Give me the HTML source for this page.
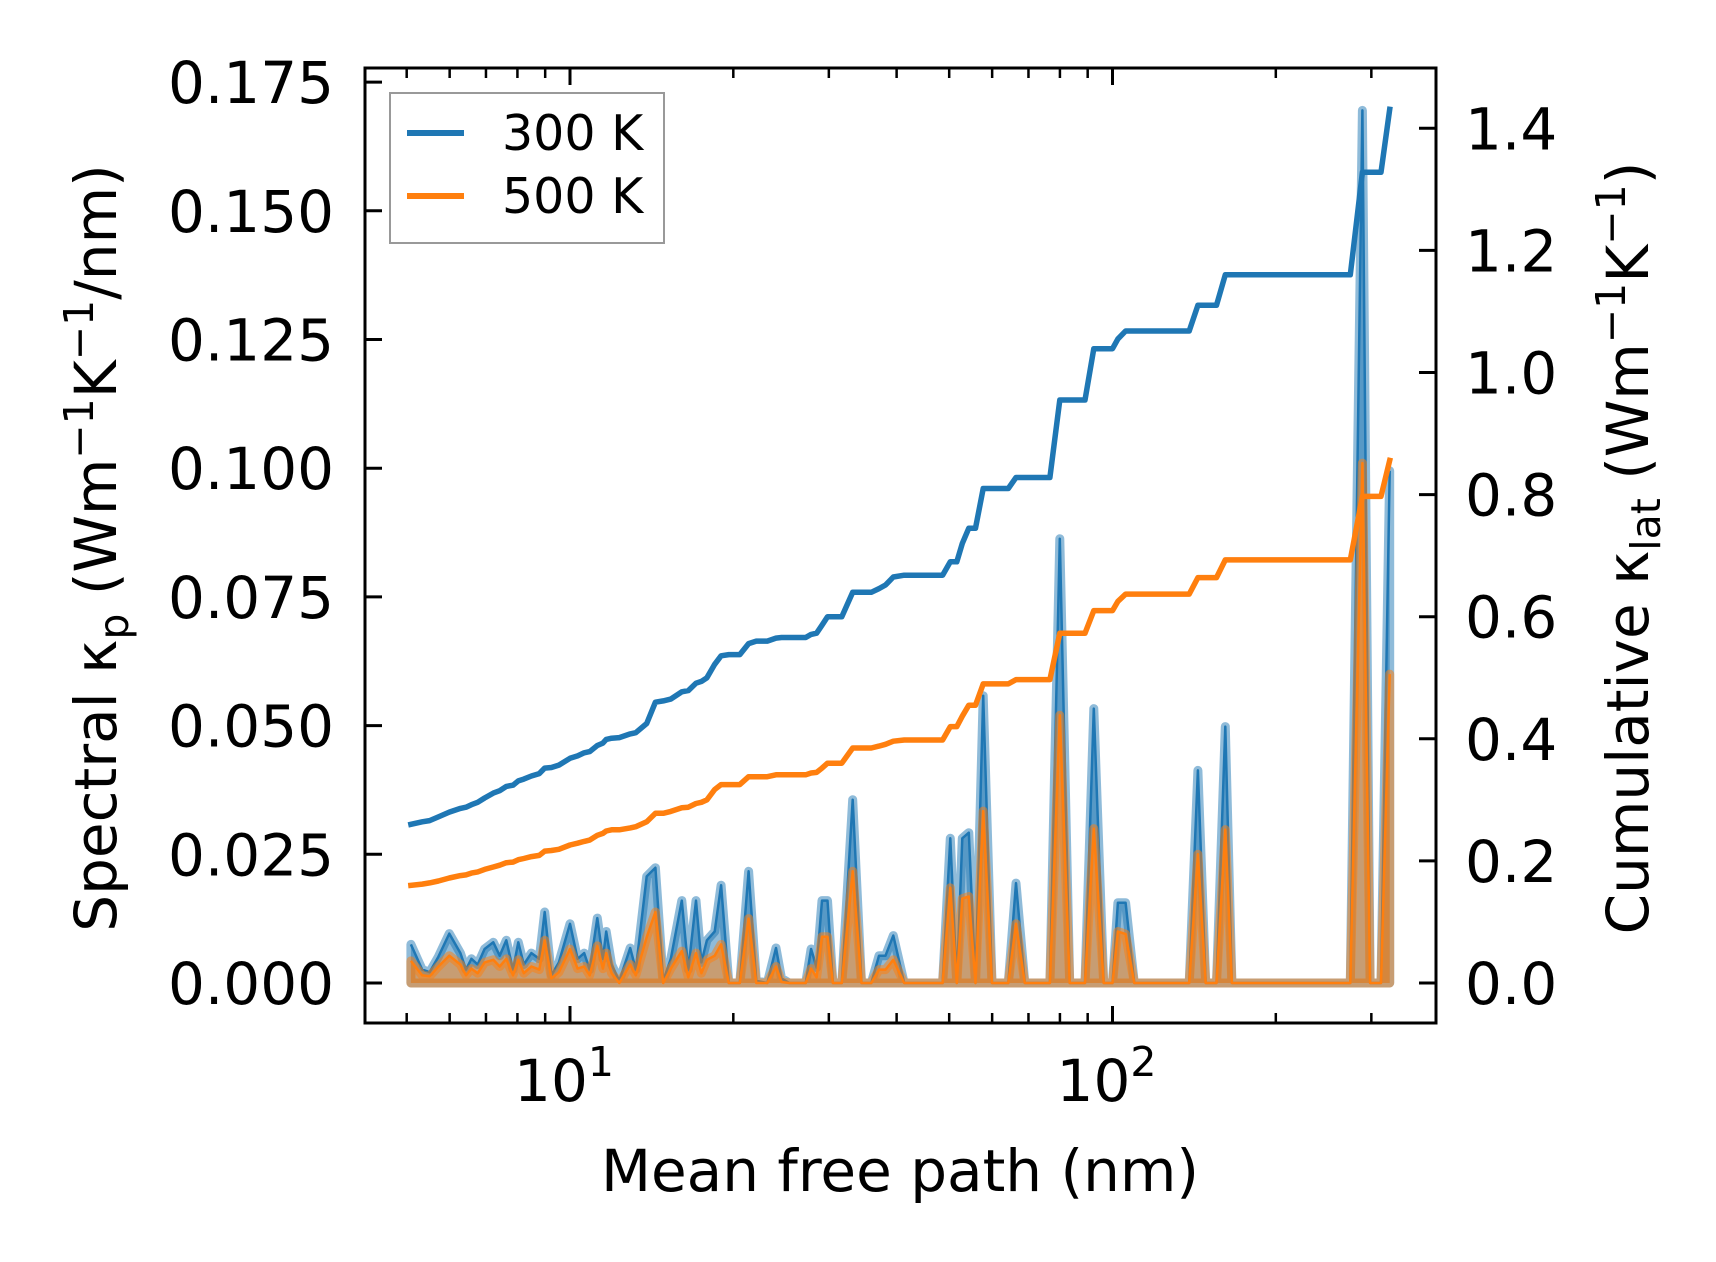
<!DOCTYPE html>
<html><head><meta charset="utf-8"><style>
html,body{margin:0;padding:0;background:#fff;}
svg{display:block;font-family:"DejaVu Sans","Liberation Sans",sans-serif;}
</style></head><body>
<svg id="chart" width="1716" height="1262" viewBox="0 0 1716 1262" xmlns="http://www.w3.org/2000/svg">
<g id="series"></g>
<g id="axes"></g>
</svg>
<script>
// ---- data ----
const mfpSpec = [5.09,5.34,5.51,5.72,5.99,6.28,6.43,6.58,6.76,6.96,7.22,7.42,7.63,7.85,8.03,8.22,8.49,8.78,8.98,9.24,9.54,10.0,10.33,10.62,10.87,11.23,11.5,11.66,11.93,12.33,12.91,13.22,13.85,14.37,14.85,15.34,16.07,16.52,17.07,17.47,17.88,18.48,18.99,19.62,20.56,21.34,22.05,23.1,23.97,24.54,25.35,27.19,27.82,28.48,29.14,29.83,30.52,31.69,33.2,34.46,35.93,37.12,38.16,39.44,41.3,48.63,50.23,51.64,52.86,54.35,55.91,57.76,59.96,64.27,66.4,68.92,76.68,79.97,83.4,89.0,92.37,96.32,100.0,102.3,105.7,109.7,138.5,143.7,148.5,155.5,161.4,166.0,274.4,288.8,298.4,312.6,324.3];
const spec300 = [0.0075,0.0026,0.0021,0.0051,0.0096,0.0058,0.0026,0.0047,0.0036,0.0066,0.0079,0.0053,0.0083,0.0026,0.0079,0.0036,0.0058,0.0047,0.0138,0.0015,0.0040,0.0115,0.0047,0.0058,0.0026,0.0126,0.0047,0.0100,0.0036,0.0004,0.0068,0.0026,0.0207,0.0224,0.0004,0.0047,0.0160,0.0026,0.0160,0.0040,0.0083,0.0100,0.0190,0,0,0.0217,0.0004,0,0.0068,0.0009,0,0,0.0066,0.0030,0.0160,0.0160,0,0,0.0356,0,0,0.0053,0.0053,0.0092,0,0,0.0281,0,0.0281,0.0292,0,0.0558,0,0,0.0194,0,0,0.0863,0,0,0.0533,0,0,0.0156,0.0156,0,0,0.0413,0,0,0.0498,0,0,0.1695,0,0,0.0995];
const spec500 = [0.0043,0.0015,0.0013,0.0032,0.0053,0.0036,0.0015,0.0028,0.0019,0.0040,0.0045,0.0032,0.0047,0.0015,0.0045,0.0019,0.0032,0.0026,0.0083,0.0009,0.0021,0.0066,0.0028,0.0032,0.0015,0.0072,0.0028,0.0058,0.0019,0,0.0036,0.0015,0.0089,0.0138,0,0.0028,0.0062,0.0011,0.0058,0.0019,0.0045,0.0053,0.0075,0,0,0.0125,0,0,0.0032,0.0002,0,0,0.0028,0.0011,0.0090,0.0090,0,0,0.0217,0,0,0.0026,0.0026,0.0045,0,0,0.0185,0,0.0164,0.0168,0,0.0334,0,0,0.0115,0,0,0.0520,0,0,0.0300,0,0,0.0100,0.0095,0,0,0.0250,0,0,0.0298,0,0,0.101,0,0,0.0600];
const cum300 = [0.260,0.264,0.266,0.272,0.280,0.286,0.288,0.292,0.296,0.303,0.311,0.315,0.322,0.324,0.331,0.334,0.339,0.343,0.352,0.353,0.357,0.368,0.372,0.377,0.379,0.389,0.393,0.399,0.401,0.402,0.408,0.410,0.425,0.460,0.462,0.465,0.477,0.479,0.491,0.494,0.500,0.522,0.536,0.538,0.538,0.556,0.560,0.560,0.565,0.566,0.566,0.566,0.571,0.573,0.586,0.600,0.600,0.600,0.640,0.640,0.640,0.646,0.652,0.665,0.668,0.668,0.690,0.690,0.720,0.745,0.745,0.810,0.810,0.810,0.828,0.828,0.828,0.955,0.955,0.955,1.039,1.039,1.039,1.055,1.068,1.068,1.068,1.110,1.110,1.110,1.160,1.160,1.160,1.328,1.328,1.328,1.431];
const cum500 = [0.160,0.162,0.164,0.167,0.172,0.176,0.177,0.180,0.182,0.186,0.190,0.193,0.197,0.198,0.202,0.204,0.207,0.209,0.216,0.217,0.219,0.226,0.229,0.232,0.234,0.242,0.245,0.249,0.251,0.251,0.254,0.256,0.264,0.278,0.278,0.281,0.287,0.288,0.294,0.296,0.300,0.317,0.325,0.325,0.325,0.338,0.338,0.338,0.341,0.341,0.341,0.341,0.344,0.345,0.352,0.360,0.360,0.360,0.385,0.385,0.385,0.388,0.391,0.396,0.398,0.398,0.420,0.420,0.437,0.455,0.455,0.490,0.490,0.490,0.497,0.497,0.497,0.573,0.573,0.573,0.610,0.610,0.610,0.625,0.637,0.637,0.637,0.664,0.664,0.664,0.693,0.693,0.693,0.797,0.797,0.797,0.856];
const leftTicks = [0,0.025,0.05,0.075,0.1,0.125,0.15,0.175];
const leftTickLabels = ["0.000","0.025","0.050","0.075","0.100","0.125","0.150","0.175"];
const rightTicks = [0,0.2,0.4,0.6,0.8,1.0,1.2,1.4];
const rightTickLabels = ["0.0","0.2","0.4","0.6","0.8","1.0","1.2","1.4"];
const xMajor = [10,100];
const xMinor = [5,6,7,8,9,20,30,40,50,60,70,80,90,200,300];

// ---- geometry ----
const L=365,R=1436,T=68,B=1023;
const NS="http://www.w3.org/2000/svg";
function xs(v){return 570+(Math.log10(v)-1)*542.5;}
function yl(v){return 983-v/0.025*128.7;}
function yr(v){return 983-v/0.2*122.1;}
function mk(tag,attrs,parent){const e=document.createElementNS(NS,tag);for(const k in attrs)e.setAttribute(k,attrs[k]);parent.appendChild(e);return e;}
const S=document.getElementById('series'), A=document.getElementById('axes');

function drawSpec(vals,color,name){
  let pts=mfpSpec.map((m,i)=>xs(m).toFixed(1)+','+yl(vals[i]).toFixed(1));
  let area='M'+xs(mfpSpec[0]).toFixed(1)+','+yl(0)+' L'+pts.join(' L')+' L'+xs(mfpSpec[mfpSpec.length-1]).toFixed(1)+','+yl(0)+' Z';
  const f=mk('path',{d:area,fill:color,'fill-opacity':0.5,stroke:color,'stroke-opacity':0.5,'stroke-width':9,'stroke-linejoin':'round'},S);
  
  
  const l=mk('polyline',{points:pts.join(' '),fill:'none',stroke:color,'stroke-width':2.5,'stroke-linejoin':'round'},S);
  
  
}
drawSpec(spec300,'#1f77b4','spectral-300k');
drawSpec(spec500,'#ff7f0e','spectral-500k');
function drawCum(vals,color,name){
  const pts=mfpSpec.map((m,i)=>xs(m).toFixed(1)+','+yr(vals[i]).toFixed(1)).join(' ');
  const l=mk('polyline',{points:pts,fill:'none',stroke:color,'stroke-width':5.5,'stroke-linejoin':'round','stroke-linecap':'square'},S);
  
  
}
drawCum(cum300,'#1f77b4','cumulative-300k');
drawCum(cum500,'#ff7f0e','cumulative-500k');

// ---- axes ----
const frame=mk('rect',{x:L,y:T,width:R-L,height:B-T,fill:'none',stroke:'#000','stroke-width':3},A);


leftTicks.forEach((v,i)=>{
  const y=yl(v);
  mk('line',{x1:L,x2:L+17,y1:y,y2:y,stroke:'#000','stroke-width':3},A);
  const t=mk('text',{x:L-31,y:y+21,'text-anchor':'end','font-size':58},A);
  t.textContent=leftTickLabels[i];
  
  
});
rightTicks.forEach((v,i)=>{
  const y=yr(v);
  mk('line',{x1:R-17,x2:R,y1:y,y2:y,stroke:'#000','stroke-width':3},A);
  const t=mk('text',{x:R+29,y:y+21,'text-anchor':'start','font-size':58},A);
  t.textContent=rightTickLabels[i];
  
  
});
xMajor.forEach((v,i)=>{
  const x=xs(v);
  mk('line',{x1:x,x2:x,y1:B,y2:B-17,stroke:'#000','stroke-width':3},A);
  mk('line',{x1:x,x2:x,y1:T,y2:T+17,stroke:'#000','stroke-width':3},A);
  const t=mk('text',{x:x-6,y:1101,'text-anchor':'middle','font-size':58},A);
  t.textContent='10';
  const s=mk('tspan',{dy:-25,'font-size':41},t);
  s.textContent=String(i+1);
  
  
});
xMinor.forEach(v=>{
  const x=xs(v);
  mk('line',{x1:x,x2:x,y1:B,y2:B-10,stroke:'#000','stroke-width':2.5},A);
  mk('line',{x1:x,x2:x,y1:T,y2:T+10,stroke:'#000','stroke-width':2.5},A);
});
</script>
<svg style="position:absolute;left:0;top:0" width="1716" height="1262" xmlns="http://www.w3.org/2000/svg" font-family="DejaVu Sans, Liberation Sans, sans-serif">
<text x="900" y="1191" text-anchor="middle" font-size="58">Mean free path (nm)</text>
<text transform="translate(116,548) rotate(-90)" text-anchor="middle" font-size="58">Spectral κ<tspan font-size="41" dy="12">p</tspan><tspan dy="-12"> (Wm</tspan><tspan font-size="41" dy="-23">−1</tspan><tspan dy="23">K</tspan><tspan font-size="41" dy="-23">−1</tspan><tspan dy="23">/nm)</tspan></text>
<text transform="translate(1648,548) rotate(-90)" text-anchor="middle" font-size="58">Cumulative κ<tspan font-size="41" dy="12">lat</tspan><tspan dy="-12"> (Wm</tspan><tspan font-size="41" dy="-23">−1</tspan><tspan dy="23">K</tspan><tspan font-size="41" dy="-23">−1</tspan><tspan dy="23">)</tspan></text>
<g>
<rect x="390" y="93" width="274" height="150" fill="#fff" stroke="#999" stroke-width="2"/>
<line x1="407" x2="464" y1="133" y2="133" stroke="#1f77b4" stroke-width="6"/>
<text x="502" y="150" font-size="49">300 K</text>
<line x1="407" x2="464" y1="196" y2="196" stroke="#ff7f0e" stroke-width="6"/>
<text x="502" y="213" font-size="49">500 K</text>
</g>
</svg>
</body></html>
